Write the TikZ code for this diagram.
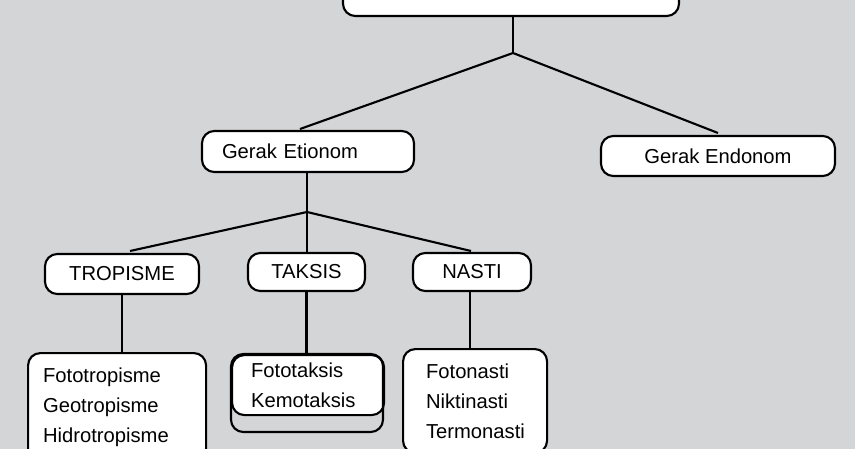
\documentclass[tikz,border=0pt]{standalone}
\usepackage{fontspec}
\setmainfont{Liberation Sans}
\definecolor{bggray}{HTML}{D4D5D7}
\begin{document}
\begin{tikzpicture}[x=0.02cm,y=-0.02cm]
\tikzset{box/.style={draw,line width=1.2pt,fill=white,rounded corners=7pt,font=\fontsize{11.5}{17}\selectfont,inner sep=0pt},
         conn/.style={line width=1.2pt}}
\fill[bggray] (0,0) rectangle (855,449);
\useasboundingbox (0,0) rectangle (855,449);
% upper levels
\node[box,minimum width=336*0.02cm,minimum height=60*0.02cm] (gerak) at (511,-14) {};
\node[box,minimum width=212*0.02cm,minimum height=41*0.02cm,text width=172*0.02cm,align=left] (etionom) at (308,151.5) {Gerak Etionom};
\node[box,minimum width=234*0.02cm,minimum height=40*0.02cm] (endonom) at (718,156) {Gerak Endonom};
\coordinate (split1) at (513,53);
\draw[conn] (gerak.south -| split1) -- (split1);
\draw[conn] (split1) -- (300,129);
\draw[conn] (split1) -- (718,133);
% jenis gerak etionom
\node[box,minimum width=154*0.02cm,minimum height=40*0.02cm] (tropisme) at (122,274) {TROPISME};
\node[box,minimum width=117*0.02cm,minimum height=38*0.02cm] (taksis) at (306.5,272) {TAKSIS};
\node[box,minimum width=118*0.02cm,minimum height=38*0.02cm] (nasti) at (472,272) {NASTI};
\coordinate (split2) at (307,212);
\draw[conn] (etionom.south -| split2) -- (split2);
\draw[conn] (split2) -- (130,251);
\draw[conn] (split2) -- (taksis.north -| split2);
\draw[conn] (split2) -- (471,251);
% contoh
\node[box,minimum width=178*0.02cm,minimum height=108*0.02cm,text width=148*0.02cm,align=left,anchor=north west] (tropi) at (27,352) {Fototropisme\\Geotropisme\\Hidrotropisme};
\node[box,minimum width=152*0.02cm,minimum height=60*0.02cm,text width=114*0.02cm,align=left,anchor=north west] (taksi) at (231,354) {Fototaksis\\Kemotaksis};
\draw[box,fill=none] (taksi.north west) rectangle ++(152,78);
\node[box,minimum width=144*0.02cm,minimum height=104*0.02cm,text width=98*0.02cm,align=left,anchor=north west] (nast) at (402,348) {Fotonasti\\Niktinasti\\Termonasti};
\draw[conn] (tropisme.south) -- (tropi.north -| tropisme.south);
\draw[conn] (taksis.south) -- (taksi.north -| taksis.south);
\draw[conn] (nasti.south -| 470,0) -- (nast.north -| 470,0);
\end{tikzpicture}
\end{document}
